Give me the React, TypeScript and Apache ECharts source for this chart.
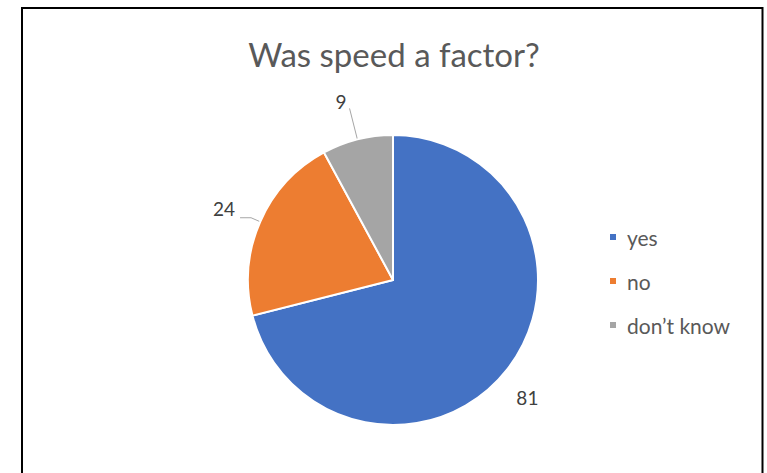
import React, { useEffect, useRef } from 'react';
import * as echarts from 'echarts';

const titleText = 'Was speed a factor?';
const categories = ['yes', 'no', 'don’t know'];
const values = [81, 24, 9];
const colors = ['#4472C4', '#ED7D31', '#A5A5A5'];

// label placement styles per slice (not data)
const labelStyles = [
  { line: false, length: 5, length2: 0, distance: 5, dx: 0, dy: 25 },
  { line: true, length: 10, length2: 11, distance: 5, dx: 0, dy: -9 },
  { line: true, length: 32, length2: 0, distance: 3, dx: 0, dy: -7 },
];

const FONT = 'Lato, "Open Sans", sans-serif';

export default function App() {
  const ref = useRef<HTMLDivElement>(null);
  useEffect(() => {
    if (!ref.current) return;
    const chart = echarts.init(ref.current, undefined, { renderer: 'svg' });
    const data = categories.map((name, i) => ({
      name,
      value: values[i],
      itemStyle: { color: colors[i] },
      label: {
        distanceToLabelLine: labelStyles[i].distance,
      },
      labelLine: {
        show: labelStyles[i].line,
        length: labelStyles[i].length,
        length2: labelStyles[i].length2,
      },
    }));
    chart.setOption({
      animation: false,
      backgroundColor: '#ffffff',
      graphic: [
        {
          type: 'rect',
          shape: { x: 22, y: 8, width: 740.5, height: 480 },
          style: { fill: 'none', stroke: '#000000', lineWidth: 2 },
          silent: true,
        },
        {
          type: 'text',
          x: 394,
          y: 54,
          style: {
            text: titleText,
            font: `33px ${FONT}`,
            fill: '#595959',
            align: 'center',
            verticalAlign: 'middle',
          },
        },
      ],
      legend: {
        orient: 'vertical',
        left: 603,
        top: 221,
        icon: 'rect',
        itemWidth: 8,
        itemHeight: 8,
        itemGap: 22,
        data: categories,
        textStyle: {
          fontFamily: FONT,
          fontSize: 21,
          lineHeight: 22,
          color: '#595959',
          padding: [0, 0, 0, 5],
        },
      },
      series: [
        {
          type: 'pie',
          center: [393, 280],
          radius: 145,
          startAngle: 90,
          clockwise: true,
          avoidLabelOverlap: false,
          itemStyle: { borderColor: '#ffffff', borderWidth: 2 },
          label: {
            show: true,
            position: 'outside',
            formatter: '{c}',
            fontFamily: FONT,
            fontSize: 19,
            lineHeight: 19,
            color: '#404040',
          },
          labelLine: {
            lineStyle: { color: '#A6A6A6', width: 1 },
          },
          labelLayout: (params: any) => ({
            dx: labelStyles[params.dataIndex].dx,
            dy: labelStyles[params.dataIndex].dy,
          }),
          emphasis: { disabled: true },
          data,
        },
      ],
    });
    return () => chart.dispose();
  }, []);
  return (
    <div
      ref={ref}
      style={{ position: 'absolute', left: 0, top: 0, width: 767, height: 473 }}
    />
  );
}
